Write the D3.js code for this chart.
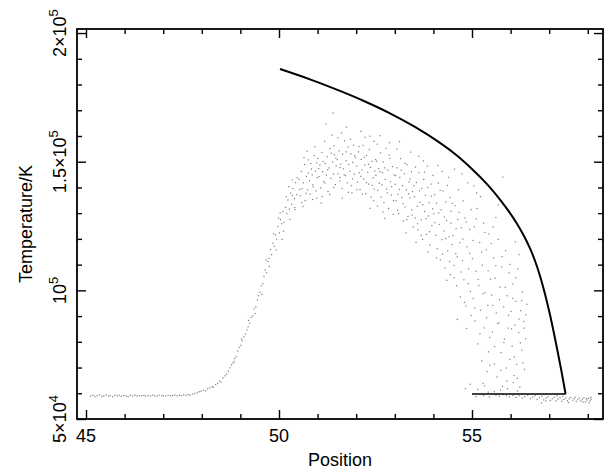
<!DOCTYPE html>
<html>
<head>
<meta charset="utf-8">
<script src="https://d3js.org/d3.v7.min.js"></script>
<style>
body { margin: 0; background: #fff; }
text { font-family: "Liberation Sans", Arial, sans-serif; fill: #000; }
</style>
</head>
<body>
<script>
// ---- tick values / labels
var xMajor = [45, 50, 55];
var xMinor = [46, 47, 48, 49, 51, 52, 53, 54, 56, 57, 58];
var yMajor = [50000, 100000, 150000, 200000];
var yMinor = [60000, 70000, 80000, 90000, 110000, 120000, 130000, 140000, 160000, 170000, 180000, 190000];
var yTickMant = ["5", "", "1.5", "2"];
var yTickExp = ["4", "5", "5", "5"];

// ---- model curve (Position, Temperature)
var lineX = [50.026, 50.803, 51.580, 52.228, 52.876, 53.523, 54.171, 54.585, 55.026, 55.389, 55.725, 55.959,
             56.166, 56.347, 56.503, 56.632, 56.762, 56.891, 57.021, 57.111, 57.202, 57.306, 57.425];
var lineT = [186000, 182000, 177500, 173400, 168800, 163500, 157300, 152700, 146800, 141300, 135300, 130600,
             125900, 121100, 116300, 111500, 105600, 98600, 90500, 84200, 77500, 69500, 59700];
var floorLineX = [55.0, 57.425];
var floorLineT = [59700, 59700];

// ---- particle temperatures
var baseline = [
  [45.12,58900],[45.18,59200],[45.23,58700],[45.29,59100],[45.35,59400],[45.41,58800],[45.46,59000],[45.52,59300],[45.58,58900],[45.63,59100],
  [45.69,58700],[45.75,59200],[45.81,59000],[45.86,59300],[45.92,58800],[45.98,59100],[46.04,59000],[46.09,58700],[46.15,59200],[46.21,59000],
  [46.27,59300],[46.32,58900],[46.38,59100],[46.44,59000],[46.50,59200],[46.55,58800],[46.61,59100],[46.67,59000],[46.73,59300],[46.78,59000],
  [46.84,58900],[46.90,59200],[46.96,59000],[47.01,59100],[47.07,58900],[47.13,59200],[47.19,59000],[47.24,59100],[47.30,59300],[47.36,59000],
  [47.42,59200],[47.47,59100],[47.53,59400],[47.59,59200],[47.65,59500],[47.70,59300],[47.76,59700],[47.82,59900],[47.88,60200],[47.93,60600]
];
var rise = [
  [47.98,60800],[48.04,61200],[48.10,61000],[48.15,61800],[48.21,62100],[48.27,62600],[48.30,62300],[48.36,63400],[48.41,63900],[48.46,64800],
  [48.50,64300],[48.55,66000],[48.60,66800],[48.64,67500],[48.69,68600],[48.73,69900],[48.77,71000],[48.81,71800],[48.85,73500],[48.89,74200],
  [48.93,76400],[48.97,77800],[49.01,78600],[49.05,80400],[49.09,81900],[49.13,83100],[49.17,84600],[49.20,85800],[49.24,87200],[49.28,89500],
  [49.32,90100],[49.36,92800],[49.40,93600],[49.44,96300],[49.47,97900],[49.51,99200],[49.54,101800],[49.58,102600],[49.61,105400],[49.64,107900],
  [49.68,106800],[49.71,111200],[49.74,112400],[49.78,115800],[49.81,113900],[49.84,118300],[49.88,117100],[49.91,121600],[49.94,119900],[49.97,124800],
  [50.01,122300],[50.04,127500],[50.07,125900],[50.10,130600],[50.13,126400],[50.17,132200],[50.20,129800],[50.23,135100],[50.27,131600],[50.30,137800],
  [50.33,133400],[50.36,139600],[50.40,135700],[50.43,141900],[50.46,137200],
  [49.56,98400],[49.66,111800],[49.75,109300],[49.86,122000],[49.93,115700],[50.03,130100],[50.12,123000],[50.19,136400],[50.28,127600],[50.34,142900],
  [50.41,132200],[50.25,140300],[49.99,128100],[50.08,119800],[49.21,88300],[49.38,91000],[48.84,72300],[49.03,81100]
];
var cloud = [
  [50.52,143100],[50.55,136800],[50.58,146200],[50.60,139500],[50.63,141800],[50.66,148900],[50.68,134900],[50.71,144300],[50.74,139100],[50.76,150700],
  [50.79,142600],[50.81,137400],[50.84,147100],[50.86,144900],[50.89,140200],[50.91,152400],[50.94,146300],[50.96,138700],[50.98,149500],[50.62,132600],
  [50.87,135300],[50.73,154100],[50.99,143800],
  [51.01,151200],[51.04,144200],[51.06,148700],[51.08,139800],[51.11,153600],[51.13,146100],[51.16,142300],[51.18,157900],[51.20,149300],[51.23,144800],
  [51.25,151900],[51.27,138400],[51.30,147600],[51.32,155100],[51.34,143500],[51.37,160300],[51.39,149800],[51.41,145200],[51.44,152700],[51.46,141100],
  [51.48,148400],[51.22,164600],[51.40,168900],[51.12,136500],[51.43,156200],
  [51.51,150800],[51.53,145300],[51.56,154200],[51.58,143900],[51.60,149100],[51.63,139600],[51.65,152900],[51.67,147200],[51.70,158100],[51.72,144600],
  [51.74,150400],[51.77,141800],[51.79,155700],[51.81,148900],[51.84,146300],[51.86,153100],[51.88,140700],[51.91,149700],[51.93,156400],[51.95,145100],
  [51.98,151600],[51.62,161200],[51.89,137900],[51.75,163400],[51.57,142500],
  [52.01,148300],[52.03,142100],[52.06,153800],[52.08,145700],[52.10,139200],[52.13,150900],[52.15,146800],[52.18,156300],[52.20,143200],[52.22,148700],
  [52.25,137600],[52.27,152400],[52.30,145900],[52.32,141300],[52.34,154700],[52.37,147800],[52.39,136200],[52.41,150100],[52.44,143800],[52.46,157900],
  [52.48,146400],[52.12,161800],[52.36,131900],[52.23,159400],[52.47,139400],
  [52.51,144700],[52.53,150200],[52.56,138900],[52.58,147300],[52.60,141600],[52.63,153400],[52.65,136200],[52.68,145800],[52.70,149900],[52.72,134100],
  [52.75,143100],[52.77,155200],[52.79,139400],[52.82,146700],[52.84,131800],[52.87,151300],[52.89,142200],[52.91,137100],[52.94,148100],[52.96,129500],
  [52.98,144900],[52.62,160100],[52.86,157400],[52.74,127900],[52.55,132700],
  [53.01,141200],[53.03,134800],[53.06,147600],[53.08,137300],[53.10,129800],[53.13,143900],[53.15,151200],[53.18,136100],[53.20,140700],[53.22,126900],
  [53.25,145300],[53.27,132400],[53.30,139100],[53.32,148800],[53.34,128700],[53.37,142100],[53.39,135900],[53.41,153700],[53.44,131300],[53.46,138400],
  [53.48,124600],[53.12,157800],[53.29,122300],[53.43,146100],[53.05,154900],
  [53.51,136400],[53.53,128100],[53.56,141900],[53.58,132700],[53.60,123500],[53.63,145800],[53.65,134200],[53.68,127400],[53.70,139600],[53.72,119800],
  [53.75,143100],[53.77,130600],[53.79,136900],[53.82,121700],[53.84,148200],[53.87,128900],[53.89,134100],[53.91,117600],[53.94,141300],[53.96,125200],
  [53.98,131700],[53.62,152100],[53.86,114900],[53.74,150300],[53.55,118600]
];
var cloud2 = [
  [50.345,136900],[50.418,131400],[50.472,143800],[50.537,139200],[50.591,134100],[50.648,151600],[50.702,137700],[50.757,145600],[50.823,149300],[50.871,141000],
  [50.934,155800],[50.977,135800],[51.027,147300],[51.094,133900],[51.148,150100],[51.187,141700],[51.263,146900],[51.311,137200],[51.356,153300],[51.418,139900],
  [51.474,151400],[51.529,159300],[51.583,147700],[51.641,135900],[51.687,145000],[51.738,153800],[51.796,138100],[51.853,158700],[51.907,143300],[51.962,152300],
  [52.017,139100],[52.071,155900],[52.118,144300],[52.166,137400],[52.213,151700],[52.264,141900],[52.318,149000],[52.356,159900],[52.417,140800],[52.452,134800],
  [52.503,150800],[52.547,156800],[52.611,146100],[52.663,141000],[52.693,130400],[52.738,147600],[52.807,137900],[52.853,152600],[52.918,140300],[52.967,134900],
  [53.022,144600],[53.072,131100],[53.118,139200],[53.163,146700],[53.214,133600],[53.266,149300],[53.311,127500],[53.358,137500],[53.397,143300],[53.453,129200],
  [53.497,140600],[53.536,147900],[53.588,125900],[53.641,138700],[53.683,121300],[53.727,133300],[53.768,145900],[53.812,127900],[53.857,140000],[53.903,122800],
  [53.946,136600],[53.991,144700]
];
var tail = [
  [54.01,129800],[54.03,137200],[54.06,121400],[54.08,133900],[54.10,116200],[54.13,141700],[54.15,125600],[54.18,111900],[54.20,131300],[54.22,119700],
  [54.25,138600],[54.27,123100],[54.30,108700],[54.32,134400],[54.34,127200],[54.37,115300],[54.39,143900],[54.41,120900],[54.44,106100],[54.46,130700],
  [54.48,117800],[54.12,148600],[54.35,103900],[54.23,146200],[54.43,136100],
  [54.51,121300],[54.53,109700],[54.56,132900],[54.58,114200],[54.60,101800],[54.63,127600],[54.65,139100],[54.68,118500],[54.70,97400],[54.72,124300],
  [54.75,111600],[54.77,134800],[54.79,104100],[54.82,128200],[54.84,93900],[54.87,116900],[54.89,141800],[54.91,108300],[54.94,123700],[54.96,99600],
  [54.98,131400],[54.62,88700],[54.86,85200],[54.74,145300],[54.55,147100],[54.83,61800],[54.95,63500],
  [55.01,112300],[55.03,96800],[55.06,124700],[55.08,88100],[55.10,107400],[55.13,131800],[55.15,79200],[55.18,101900],[55.20,118600],[55.22,92300],
  [55.25,72600],[55.27,109800],[55.30,126100],[55.32,85400],[55.34,99100],[55.37,115700],[55.39,68400],[55.41,94200],[55.44,121900],[55.46,81700],
  [55.48,104300],[55.12,137900],[55.29,63900],[55.43,76100],[55.05,140600],
  [55.51,98200],[55.53,83900],[55.56,112600],[55.58,71400],[55.60,104700],[55.63,91200],[55.65,66300],[55.68,119800],[55.70,87400],[55.72,101300],
  [55.75,75800],[55.77,109100],[55.79,62700],[55.82,93600],[55.84,81100],[55.87,115400],[55.89,69800],[55.91,97900],[55.94,85300],[55.96,106800],
  [55.98,73200],[55.62,128300],[55.80,144000],[55.74,61200],[55.55,124600],
  [56.01,91800],[56.04,78300],[56.06,102400],[56.09,66900],[56.11,86500],[56.14,95700],[56.16,71200],[56.19,108300],[56.21,83600],[56.24,62400],
  [56.26,92100],[56.29,76800],[56.31,99400],[56.34,87900],[56.36,69300],[56.39,81200],[56.42,94600],[56.22,113900],[56.07,64100]
];
var tail2 = [
  [54.037,126300],[54.083,112600],[54.141,130100],[54.176,138900],[54.238,114100],[54.284,128500],[54.318,120100],[54.363,140800],[54.419,111200],[54.457,126100],
  [54.493,133800],[54.538,104900],[54.587,123900],[54.618,113000],[54.667,130300],[54.714,107100],[54.762,119900],[54.806,95300],[54.851,126600],[54.903,102600],
  [54.939,114400],[54.973,90200],[55.027,119400],[55.071,93100],[55.114,127800],[55.163,104200],[55.207,83100],[55.249,114900],[55.288,98700],[55.331,122500],
  [55.379,89300],[55.418,107600],[55.463,70900],[55.497,118200],[55.541,94100],[55.586,78200],[55.617,109600],[55.664,87100],[55.712,96400],[55.747,68900],
  [55.783,113100],[55.826,79700],[55.863,101200],[55.904,64800],[55.947,90300],[55.986,110100],[56.023,85000],[56.058,96900],[56.097,74100],[56.132,104900],
  [56.178,65800],[56.216,88800],[56.253,79600],[56.287,96000],[56.324,71800],[56.356,85300],[56.397,90500],[56.12,118900],[55.68,133200],[55.22,136400],
  [55.15,61500],[55.33,62900],[55.58,60600],[55.92,61800],[56.18,60900],[55.42,60400]
];
var floor = [
  [55.62,59300],[55.71,58800],[55.80,59500],[55.89,59000],[55.97,58600],[56.06,59200],[56.14,58400],[56.22,59000],[56.30,58100],[56.37,58700],
  [56.44,59300],[56.51,57900],[56.57,58500],[56.63,59100],[56.69,57600],[56.75,58300],[56.81,58900],[56.86,57400],[56.92,58100],[56.97,58700],
  [57.03,57200],[57.08,57900],[57.13,58500],[57.18,57000],[57.23,57700],[57.28,58300],[57.33,56900],[57.38,57600],[57.43,58200],[57.47,57100],
  [57.52,57800],[57.56,58400],[57.61,57300],[57.65,57900],[57.70,56800],[57.74,57500],[57.78,58100],[57.82,57000],[57.86,57700],[57.90,58300],
  [57.94,56700],[57.98,57400],[58.02,58000],[58.06,57100],[58.09,57700],[57.50,56400],[57.88,56600],[57.20,59000],[56.80,56300],[58.04,56300],
  [55.10,58700],[55.30,59100],[55.45,58500],[56.92,57000],[57.35,58800],[57.67,58500],[57.96,57900],[58.08,58400]
];

var width = 604, height = 472;
var margin = { left: 77, right: 1, top: 29, bottom: 53 };

var svg = d3.select("body").append("svg")
    .attr("width", width)
    .attr("height", height);

var x = d3.scaleLinear().domain([44.767, 58.394]).range([margin.left, width - margin.right]);
var y = d3.scaleLinear().domain([50000, 201570]).range([height - margin.bottom, margin.top]);

var x0 = margin.left, x1 = width - margin.right;
var y0 = height - margin.bottom, y1 = margin.top;

// scatter points
var pts = baseline.concat(rise, cloud, cloud2, tail, tail2, floor);
svg.append("g").selectAll("rect")
    .data(pts)
    .enter().append("rect")
    .attr("x", function (d) { return x(d[0]) - 0.6; })
    .attr("y", function (d) { return y(d[1]) - 0.6; })
    .attr("width", 1.2)
    .attr("height", 1.2)
    .attr("fill", "#444")
    .attr("fill-opacity", 0.7);

// model curve
var line = d3.line()
    .x(function (d) { return x(d[0]); })
    .y(function (d) { return y(d[1]); })
    .curve(d3.curveCatmullRom.alpha(0.5));

svg.append("path")
    .datum(d3.zip(lineX, lineT))
    .attr("d", line)
    .attr("fill", "none")
    .attr("stroke", "#000")
    .attr("stroke-width", 2);

svg.append("path")
    .datum(d3.zip(floorLineX, floorLineT))
    .attr("d", d3.line().x(function (d) { return x(d[0]); }).y(function (d) { return y(d[1]); }))
    .attr("fill", "none")
    .attr("stroke", "#000")
    .attr("stroke-width", 1.6);

// ticks on all four sides, pointing inwards
function ticks(axis, vals, size, tr) {
    var g = svg.append("g")
        .attr("transform", tr)
        .call(axis.tickValues(vals).tickSize(size).tickSizeOuter(0).tickFormat(""));
    g.select(".domain").remove();
    g.selectAll("line").attr("stroke", "#000").attr("stroke-width", 1.4);
}
ticks(d3.axisBottom(x), xMajor, -9, "translate(0," + y0 + ")");
ticks(d3.axisBottom(x), xMinor, -5, "translate(0," + y0 + ")");
ticks(d3.axisTop(x), xMajor, -9, "translate(0," + y1 + ")");
ticks(d3.axisTop(x), xMinor, -5, "translate(0," + y1 + ")");
ticks(d3.axisLeft(y), yMajor, -9, "translate(" + x0 + ",0)");
ticks(d3.axisLeft(y), yMinor, -5, "translate(" + x0 + ",0)");
ticks(d3.axisRight(y), yMajor, -9, "translate(" + x1 + ",0)");
ticks(d3.axisRight(y), yMinor, -5, "translate(" + x1 + ",0)");

// frame
svg.append("rect")
    .attr("x", x0).attr("y", y1)
    .attr("width", x1 - x0).attr("height", y0 - y1)
    .attr("fill", "none")
    .attr("stroke", "#000")
    .attr("stroke-width", 1.8);

// x tick labels
svg.append("g").selectAll("text")
    .data(xMajor)
    .enter().append("text")
    .attr("x", function (d) { return x(d); })
    .attr("y", 442)
    .attr("text-anchor", "middle")
    .style("font-size", "18px")
    .text(function (d) { return d; });

// y tick labels (rotated, with superscript exponent)
var yl = svg.append("g").selectAll("text")
    .data(yMajor)
    .enter().append("text")
    .attr("transform", function (d) { return "translate(66," + y(d) + ") rotate(-90)"; })
    .attr("text-anchor", "middle")
    .style("font-size", "18px");
yl.append("tspan")
    .text(function (d, i) { return (yTickMant[i] ? yTickMant[i] + "\u00d7" : "") + "10"; });
yl.append("tspan")
    .attr("dy", -8)
    .style("font-size", "13px")
    .text(function (d, i) { return yTickExp[i]; });

// axis titles
svg.append("text")
    .attr("x", (x0 + x1) / 2)
    .attr("y", 466)
    .attr("text-anchor", "middle")
    .style("font-size", "18px")
    .text("Position");

svg.append("text")
    .attr("transform", "translate(32," + ((y0 + y1) / 2) + ") rotate(-90)")
    .attr("text-anchor", "middle")
    .style("font-size", "18px")
    .text("Temperature/K");
</script>
</body>
</html>
